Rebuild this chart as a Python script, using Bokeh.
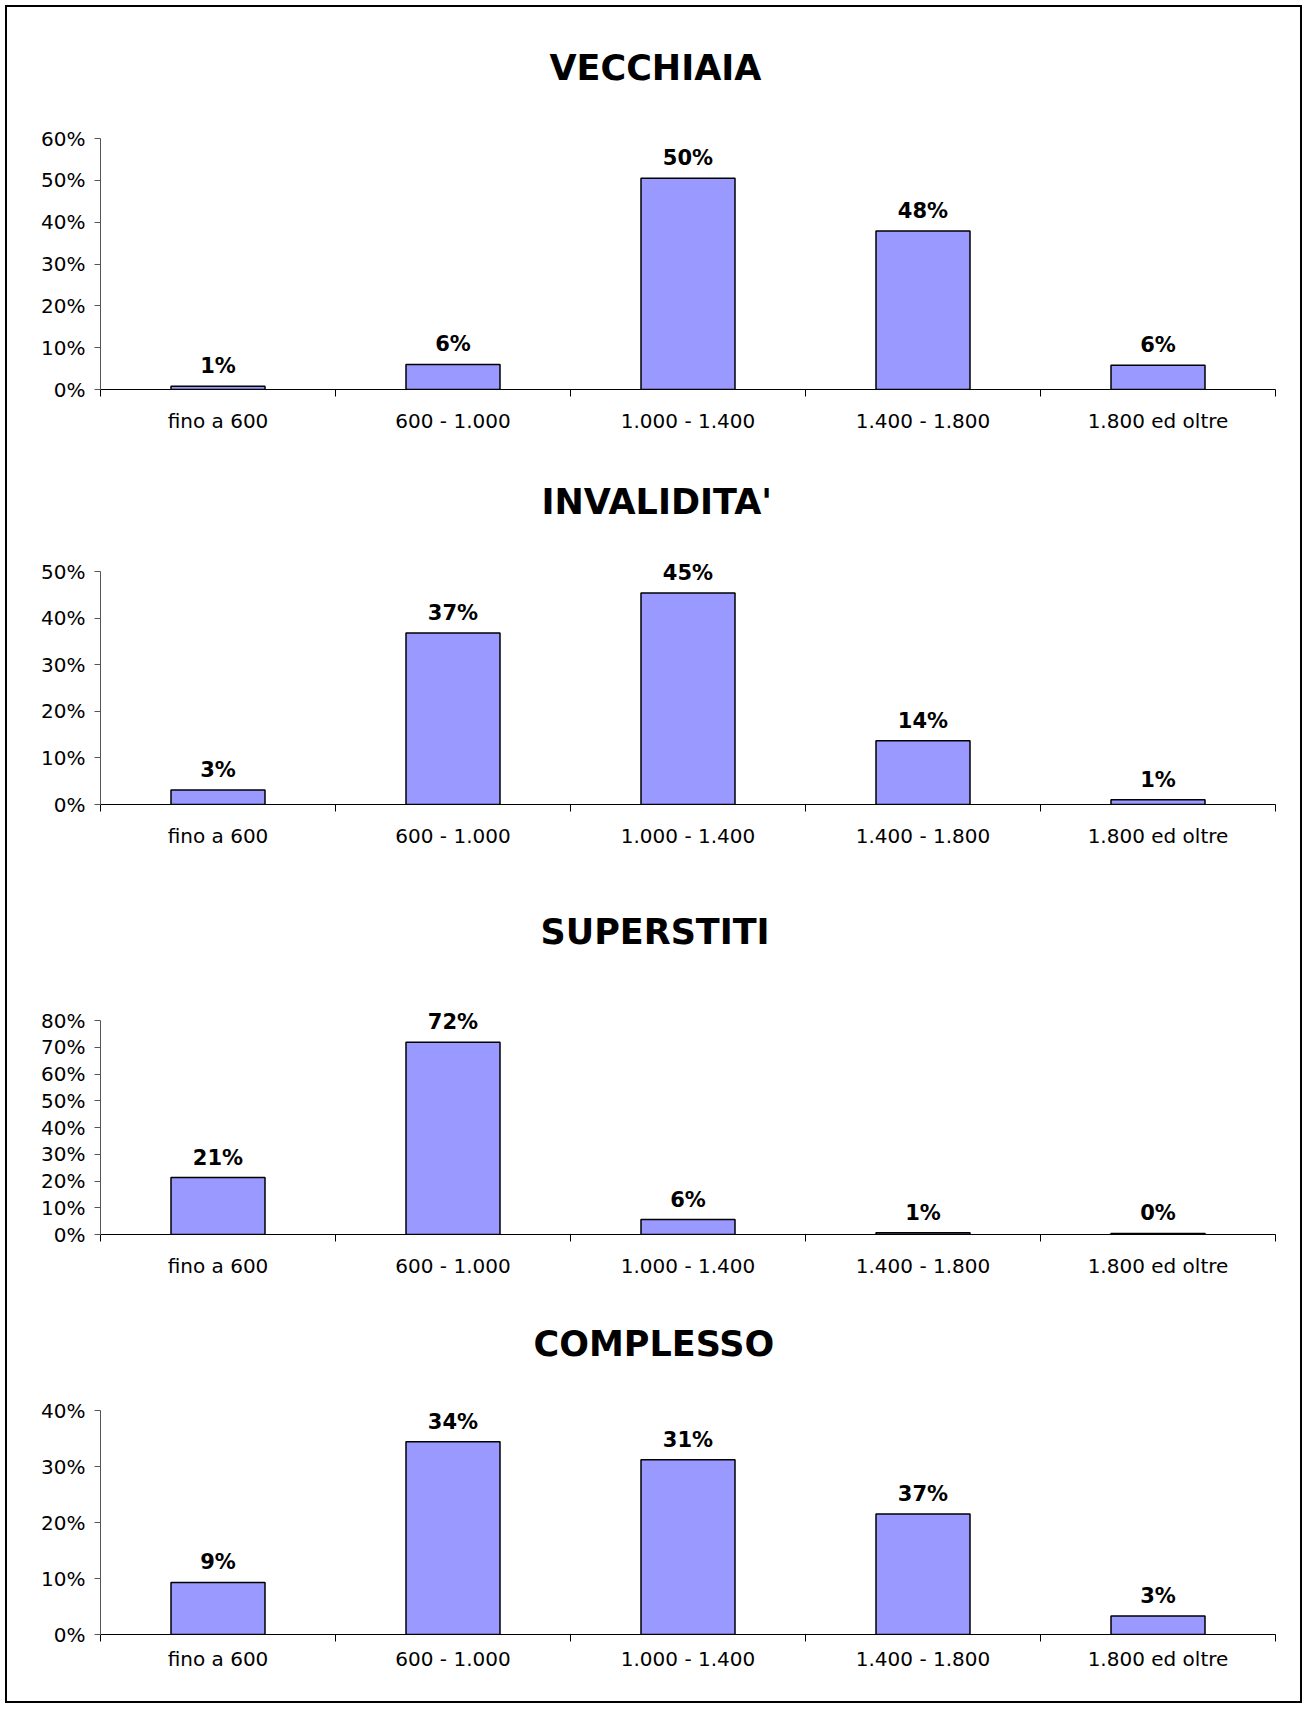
from bokeh.plotting import figure
from bokeh.models import Range1d, FixedTicker, PrintfTickFormatter, Title, ColumnDataSource
from bokeh.layouts import column
from bokeh.embed import file_html
from bokeh.resources import INLINE
from bokeh.core.properties import value

# ---------------- data ----------------
categories = ["fino a 600", "600 - 1.000", "1.000 - 1.400", "1.400 - 1.800", "1.800 ed oltre"]

vecchiaia_values = [0.8, 6.0, 50.5, 37.9, 5.8]
vecchiaia_labels = ["1%", "6%", "50%", "48%", "6%"]

invalidita_values = [3.1, 36.8, 45.4, 13.7, 1.0]
invalidita_labels = ["3%", "37%", "45%", "14%", "1%"]

superstiti_values = [21.3, 71.9, 5.6, 0.7, 0.4]
superstiti_labels = ["21%", "72%", "6%", "1%", "0%"]

complesso_values = [9.3, 34.4, 31.2, 21.5, 3.3]
complesso_labels = ["9%", "34%", "31%", "37%", "3%"]

titles = ["VECCHIAIA", "INVALIDITA'", "SUPERSTITI", "COMPLESSO"]
y_max = [60, 50, 80, 40]

# ---------------- styling / layout ----------------
FONT = "DejaVu Sans"
BAR_COLOR = "#9999FF"
WIDTH = 1307
PAD = 30  # free pixels above the top tick so value labels are not clipped

# top/bottom/left/right = borders around the axis area (top tick to 0 line)
layouts = [
    dict(height=445, top=138, bottom=56, left=92, right=21, title_space=48, title_offset=449, label_standoff=12),
    dict(height=435, top=126, bottom=76, left=100, right=26, title_space=47, title_offset=441, label_standoff=12),
    dict(height=410, top=140, bottom=56, left=93, right=32, title_space=66, title_offset=440, label_standoff=12),
    dict(height=418, top=120, bottom=74, left=93, right=20, title_space=44, title_offset=433, label_standoff=5),
]

series = [
    (vecchiaia_values, vecchiaia_labels),
    (invalidita_values, invalidita_labels),
    (superstiti_values, superstiti_labels),
    (complesso_values, complesso_labels),
]


def make_chart(title, values, labels, ymax, lay):
    n = len(categories)
    axis_h = lay["height"] - lay["top"] - lay["bottom"]
    y_end = ymax * (axis_h + PAD) / axis_h
    p = figure(
        width=WIDTH, height=lay["height"],
        x_range=Range1d(0, n), y_range=Range1d(0, y_end),
        output_backend="svg", toolbar_location=None,
        min_border_top=lay["top"] - PAD, min_border_bottom=lay["bottom"],
        min_border_left=lay["left"], min_border_right=lay["right"],
    )
    p.background_fill_color = "white"
    p.border_fill_color = None
    p.outline_line_color = None
    p.grid.visible = False

    xs = [i + 0.5 for i in range(n)]
    src = ColumnDataSource(dict(x=xs, top=values, label=labels, cat=categories))
    p.vbar(x="x", top="top", bottom=0, width=0.4, source=src,
           fill_color=BAR_COLOR, line_color="black", line_width=1.5)
    p.text(x="x", y="top", text="label", source=src, y_offset=-20,
           text_align="center", text_baseline="alphabetic",
           text_font=value(FONT), text_font_style="bold",
           text_font_size="21px", text_color="black")

    # x axis: labels centred on categories, tick marks at category boundaries
    xa = p.xaxis[0]
    xa.ticker = FixedTicker(ticks=xs, minor_ticks=list(range(n + 1)))
    xa.major_label_overrides = {x: c for x, c in zip(xs, categories)}
    xa.major_tick_line_color = None
    xa.major_tick_out = 0
    xa.major_tick_in = 0
    xa.minor_tick_line_color = "black"
    xa.minor_tick_out = 7
    xa.minor_tick_in = 0
    xa.axis_line_color = "black"
    xa.axis_line_width = 1.2
    xa.major_label_text_font = FONT
    xa.major_label_text_font_size = "20px"
    xa.major_label_text_color = "black"
    xa.major_label_standoff = lay["label_standoff"]

    ya = p.yaxis[0]
    ya.bounds = (0, ymax)
    ya.ticker = FixedTicker(ticks=list(range(0, ymax + 1, 10)))
    ya.formatter = PrintfTickFormatter(format="%d%%")
    ya.major_tick_out = 6
    ya.major_tick_in = 0
    ya.minor_tick_line_color = None
    ya.axis_line_color = "#555555"
    ya.major_tick_line_color = "#555555"
    ya.major_label_text_font = FONT
    ya.major_label_text_font_size = "20px"
    ya.major_label_text_color = "black"
    ya.major_label_standoff = 9

    # blank spacer panel next to the frame, then the chart title above it
    p.add_layout(Title(text=" ", text_font_size="1px", standoff=lay["title_space"] - PAD), "above")
    p.add_layout(Title(text=title, align="left", offset=lay["title_offset"],
                       vertical_align="bottom", standoff=0,
                       text_font=FONT, text_font_style="bold",
                       text_font_size="35px", text_color="black"), "above")
    return p


figs = [make_chart(t, v, l, m, lay)
        for t, (v, l), m, lay in zip(titles, series, y_max, layouts)]

page = column(*figs, spacing=0,
              styles={"outline": "2px solid black", "outline-offset": "-7px"})

open("out.html", "w").write(file_html(page, INLINE))
